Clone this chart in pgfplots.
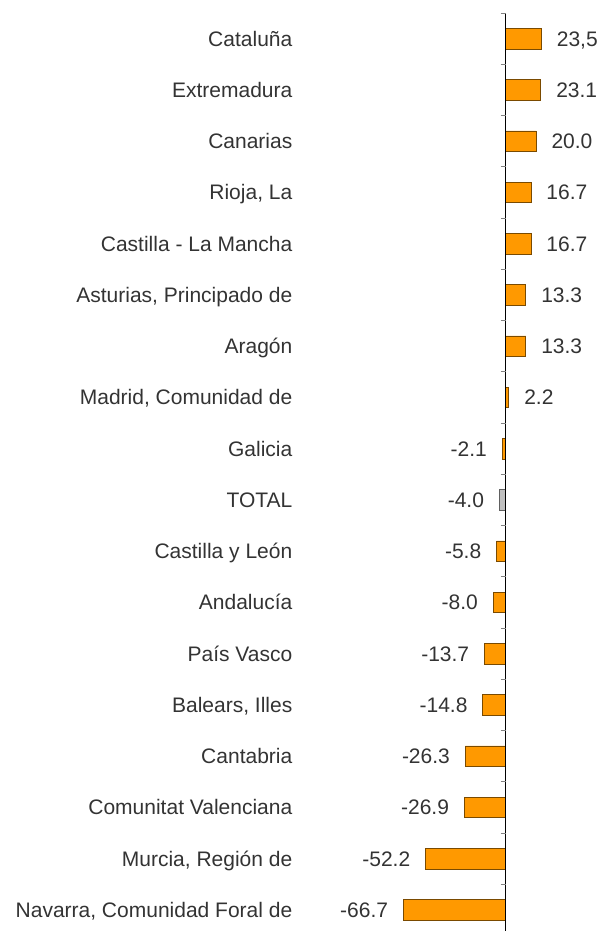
\documentclass[border=0pt]{standalone}
\usepackage{fontspec}
\setmainfont{Liberation Sans}
\usepackage{pgfplots}
\usepackage{pgfplotstable}
\pgfplotsset{compat=1.18}
\definecolor{barorange}{HTML}{FF9900}
\definecolor{baredge}{HTML}{7A4A00}
\definecolor{totfill}{HTML}{C0C0C0}
\definecolor{totedge}{HTML}{606060}
\definecolor{txt}{HTML}{333333}
\definecolor{tickgray}{HTML}{808080}
\pgfplotstableread{
y x label
0 23.5 23,5
1 23.1 23.1
2 20.0 20.0
3 16.7 16.7
4 16.7 16.7
5 13.3 13.3
6 13.3 13.3
7 2.2 2.2
}\posdata
\pgfplotstableread{
y x label
8 -2.1 -2.1
10 -5.8 -5.8
11 -8.0 -8.0
12 -13.7 -13.7
13 -14.8 -14.8
14 -26.3 -26.3
15 -26.9 -26.9
16 -52.2 -52.2
17 -66.7 -66.7
}\negdata
\pgfplotstableread{
y x label
9 -4.0 -4.0
}\totaldata
\begin{document}
\begin{tikzpicture}
\useasboundingbox (0,0) rectangle (601pt,931pt);
\begin{axis}[
  at={(292.5pt,0pt)}, anchor=south west,
  scale only axis, width=308.5pt, height=917.9pt,
  xmin=-139.2, xmax=62.4, ymin=-0.5, ymax=17.41, y dir=reverse,
  axis line style={draw=none},
  xtick=\empty, ytick={0,...,17}, major tick length=0pt,
  yticklabels={Cataluña, Extremadura, Canarias, {Rioja, La}, Castilla - La Mancha, {Asturias, Principado de}, Aragón, {Madrid, Comunidad de}, Galicia, TOTAL, Castilla y León, Andalucía, País Vasco, {Balears, Illes}, Cantabria, Comunitat Valenciana, {Murcia, Región de}, {Navarra, Comunidad Foral de}},
  yticklabel style={font=\fontsize{21}{25}\selectfont, text=txt, inner xsep=0pt, inner ysep=0pt, text height=15pt, text depth=0pt},
  clip=false,
  point meta=explicit symbolic,
  nodes near coords={\pgfplotspointmeta},
  every node near coord/.append style={font=\fontsize{21}{25}\selectfont, text=txt, inner xsep=15pt, inner ysep=0pt, text height=15pt, text depth=0pt},
]
\addplot[xbar, bar width=20.5pt, bar shift=0pt, fill=barorange, draw=baredge, line width=0.8pt,
  every node near coord/.append style={anchor=west}] table[x=x, y=y, meta=label] \posdata;
\addplot[xbar, bar width=20.5pt, bar shift=0pt, fill=barorange, draw=baredge, line width=0.8pt,
  every node near coord/.append style={anchor=east}] table[x=x, y=y, meta=label] \negdata;
\addplot[xbar, bar width=20.5pt, bar shift=0pt, fill=totfill, draw=totedge, line width=0.8pt,
  every node near coord/.append style={anchor=east}] table[x=x, y=y, meta=label] \totaldata;
\draw[black, line width=1pt] (axis cs:0,-0.5) -- (axis cs:0,17.7);
\pgfplotsinvokeforeach{-0.5,0.5,...,16.5}{
  \draw[tickgray, line width=0.8pt] ([xshift=-5pt]axis cs:0,#1) -- (axis cs:0,#1);
}
\end{axis}
\end{tikzpicture}
\end{document}
